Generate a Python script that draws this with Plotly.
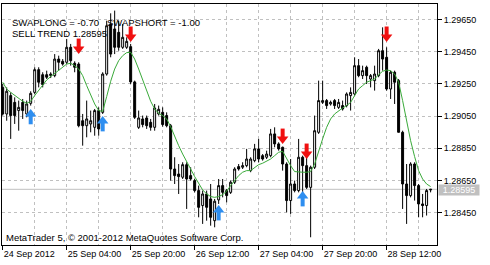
import plotly.graph_objects as go
import pandas as pd

# ---------------- data (EURUSD-like H1 bars) ----------------
start_time = "2012-09-24 12:00"

opens = [1.29228, 1.29063, 1.29177, 1.29135, 1.29084, 1.29135, 1.29063, 1.29129, 1.29197, 1.29338,
         1.29307, 1.29307, 1.29301, 1.29301, 1.29404, 1.29390, 1.29384, 1.29477, 1.29378, 1.29373,
         1.29021, 1.28990, 1.29001, 1.28980, 1.29084, 1.29073, 1.29311, 1.29622, 1.29591, 1.29570,
         1.29477, 1.29477, 1.29481, 1.29262, 1.28980, 1.29032, 1.29038, 1.29011, 1.28980, 1.29063,
         1.29073, 1.29053, 1.28990, 1.28721, 1.28690, 1.28670, 1.28748, 1.28680, 1.28649, 1.28587,
         1.28494, 1.28566, 1.28535, 1.28400, 1.28529, 1.28618, 1.28587, 1.28576, 1.28639, 1.28736,
         1.28732, 1.28742, 1.28711, 1.28773, 1.28846, 1.28804, 1.28794, 1.28804, 1.28939, 1.28877,
         1.28856, 1.28752, 1.28525, 1.28628, 1.28587, 1.28794, 1.28742, 1.28607, 1.28732, 1.28949,
         1.29135, 1.29146, 1.29125, 1.29146, 1.29104, 1.29115, 1.29115, 1.29177, 1.29187, 1.29363,
         1.29301, 1.29353, 1.29280, 1.29270, 1.29301, 1.29456, 1.29415, 1.29218, 1.29322, 1.29270,
         1.28949, 1.28628, 1.28556, 1.28752, 1.28618, 1.28504, 1.28494, 1.28591]
highs = [1.29249, 1.29228, 1.29197, 1.29166, 1.29146, 1.29156, 1.29146, 1.29204, 1.29353, 1.29353,
         1.29322, 1.29332, 1.29322, 1.29435, 1.29425, 1.29404, 1.29529, 1.29498, 1.29390, 1.29384,
         1.29063, 1.29146, 1.29084, 1.29094, 1.29104, 1.29322, 1.29642, 1.29688, 1.29705, 1.29642,
         1.29622, 1.29539, 1.29498, 1.29270, 1.29084, 1.29053, 1.29053, 1.29032, 1.29125, 1.29115,
         1.29104, 1.29073, 1.29001, 1.28794, 1.28752, 1.28763, 1.28763, 1.28732, 1.28659, 1.28618,
         1.28587, 1.28587, 1.28628, 1.28535, 1.28659, 1.28659, 1.28597, 1.28649, 1.28732, 1.28752,
         1.28763, 1.28846, 1.28794, 1.28877, 1.28908, 1.28814, 1.28835, 1.28970, 1.28980, 1.28887,
         1.28860, 1.28763, 1.28783, 1.28649, 1.28908, 1.28804, 1.28804, 1.28742, 1.29053, 1.29270,
         1.29270, 1.29156, 1.29146, 1.29156, 1.29156, 1.29146, 1.29197, 1.29228, 1.29415, 1.29404,
         1.29363, 1.29363, 1.29311, 1.29363, 1.29467, 1.29601, 1.29477, 1.29332, 1.29332, 1.29280,
         1.28959, 1.28752, 1.28763, 1.28763, 1.28628, 1.28566, 1.28597, 1.28597]
lows = [1.29053, 1.29021, 1.28908, 1.29001, 1.28959, 1.29032, 1.29042, 1.29115, 1.29187, 1.29228,
        1.29228, 1.29280, 1.29286, 1.29291, 1.29332, 1.29363, 1.29373, 1.29363, 1.29322, 1.28980,
        1.28866, 1.28918, 1.28949, 1.28928, 1.28928, 1.29063, 1.29301, 1.29415, 1.29435, 1.29456,
        1.29467, 1.29467, 1.29249, 1.29032, 1.28970, 1.28980, 1.28970, 1.28959, 1.28959, 1.29053,
        1.28984, 1.28980, 1.28649, 1.28628, 1.28566, 1.28659, 1.28473, 1.28649, 1.28576, 1.28421,
        1.28380, 1.28400, 1.28369, 1.28359, 1.28504, 1.28545, 1.28514, 1.28566, 1.28628, 1.28711,
        1.28721, 1.28732, 1.28701, 1.28763, 1.28763, 1.28773, 1.28783, 1.28794, 1.28856, 1.28835,
        1.28711, 1.28452, 1.28442, 1.28576, 1.28576, 1.28525, 1.28597, 1.28297, 1.28721, 1.28939,
        1.29125, 1.29094, 1.29115, 1.29094, 1.29094, 1.29084, 1.29104, 1.29084, 1.29177, 1.29291,
        1.29280, 1.29249, 1.29228, 1.29208, 1.29291, 1.29332, 1.29208, 1.29156, 1.29125, 1.28949,
        1.28473, 1.28380, 1.28545, 1.28525, 1.28421, 1.28421, 1.28432, 1.28576]
closes = [1.29063, 1.29204, 1.29053, 1.29053, 1.29104, 1.29084, 1.29125, 1.29191, 1.29338, 1.29260,
          1.29245, 1.29291, 1.29311, 1.29404, 1.29384, 1.29373, 1.29477, 1.29394, 1.29353, 1.28990,
          1.28990, 1.29032, 1.29021, 1.29084, 1.28970, 1.29311, 1.29611, 1.29435, 1.29477, 1.29477,
          1.29539, 1.29514, 1.29262, 1.29042, 1.29038, 1.28997, 1.28990, 1.28980, 1.29100, 1.29092,
          1.28997, 1.28990, 1.28721, 1.28680, 1.28674, 1.28748, 1.28659, 1.28659, 1.28587, 1.28483,
          1.28566, 1.28483, 1.28421, 1.28521, 1.28618, 1.28576, 1.28556, 1.28639, 1.28721, 1.28721,
          1.28742, 1.28783, 1.28783, 1.28846, 1.28783, 1.28783, 1.28814, 1.28939, 1.28877, 1.28846,
          1.28752, 1.28525, 1.28628, 1.28587, 1.28794, 1.28742, 1.28607, 1.28732, 1.28959, 1.29146,
          1.29146, 1.29115, 1.29135, 1.29115, 1.29135, 1.29094, 1.29187, 1.29197, 1.29363, 1.29301,
          1.29332, 1.29301, 1.29301, 1.29311, 1.29456, 1.29404, 1.29218, 1.29322, 1.29260, 1.28949,
          1.28628, 1.28556, 1.28752, 1.28618, 1.28504, 1.28494, 1.28587, 1.28595]
ma_values = [1.29260, 1.29218, 1.29197, 1.29177, 1.29156, 1.29142, 1.29129, 1.29142, 1.29177, 1.29212,
             1.29245, 1.29274, 1.29295, 1.29315, 1.29336, 1.29357, 1.29373, 1.29378, 1.29363, 1.29342,
             1.29301, 1.29239, 1.29177, 1.29125, 1.29084, 1.29079, 1.29171, 1.29266, 1.29342, 1.29394,
             1.29425, 1.29444, 1.29446, 1.29404, 1.29342, 1.29274, 1.29204, 1.29142, 1.29094, 1.29067,
             1.29053, 1.29032, 1.28984, 1.28922, 1.28866, 1.28814, 1.28763, 1.28721, 1.28674, 1.28628,
             1.28591, 1.28566, 1.28550, 1.28545, 1.28550, 1.28562, 1.28583, 1.28618, 1.28649, 1.28680,
             1.28701, 1.28711, 1.28711, 1.28732, 1.28748, 1.28757, 1.28769, 1.28783, 1.28804, 1.28825,
             1.28831, 1.28783, 1.28742, 1.28705, 1.28701, 1.28701, 1.28701, 1.28705, 1.28752, 1.28835,
             1.28908, 1.28980, 1.29032, 1.29063, 1.29084, 1.29100, 1.29115, 1.29135, 1.29177, 1.29218,
             1.29239, 1.29260, 1.29270, 1.29280, 1.29307, 1.29328, 1.29336, 1.29332, 1.29311, 1.29260,
             1.29146, 1.29021, 1.28897, 1.28798, 1.28711, 1.28659, 1.28628, 1.28612]

sell_bars = [19, 32, 70, 76, 96]
sell_prices = [1.29479, 1.29554, 1.28920, 1.28827, 1.29554]
buy_bars = [7, 25, 54, 75]
buy_prices = [1.29051, 1.29007, 1.28454, 1.28541]

x_tick_times = ["2012-09-24 12:00", "2012-09-25 04:00", "2012-09-25 20:00", "2012-09-26 12:00",
                "2012-09-27 04:00", "2012-09-27 20:00", "2012-09-28 12:00"]
x_tick_text = ["24 Sep 2012", "25 Sep 04:00", "25 Sep 20:00", "26 Sep 12:00",
               "27 Sep 04:00", "27 Sep 20:00", "28 Sep 12:00"]
y_tick_vals = [1.2845, 1.2865, 1.2885, 1.2905, 1.2925, 1.2945, 1.2965]
last_price = 1.28595
info_line1 = "SWAPLONG = -0.70   SWAPSHORT = -1.00"
info_line2 = "SELL TREND 1.28595"
copyright_text = "MetaTrader 5, \u00a9 2001-2012 MetaQuotes Software Corp."

# ---------------- figure ----------------
W, H = 490, 265
ML, MR, MT, MB = 2, 53, 4, 20
plot_h = H - MT - MB
y_lo, y_hi = 1.28249, 1.29746
ppp = (y_hi - y_lo) / plot_h  # price per pixel

times = pd.date_range(start_time, periods=len(closes), freq="h")
FONT = "Liberation Sans, Arial, sans-serif"
GRID = "#C0C0C0"

fig = go.Figure()

fig.add_trace(go.Scatter(x=times, y=ma_values, mode="lines",
                         line=dict(color="#3AAA3A", width=1), hoverinfo="skip"))

fig.add_trace(go.Candlestick(
    x=times, open=opens, high=highs, low=lows, close=closes,
    increasing=dict(line=dict(color="black", width=1), fillcolor="white"),
    decreasing=dict(line=dict(color="black", width=1), fillcolor="black"),
    whiskerwidth=0, hoverinfo="skip"))

def arrow(bars, prices, color, down):
    xs = [times[b] for b in bars]
    sgn = 1 if down else -1
    stem_y = [p + sgn * 3.5 * ppp for p in prices]
    head_y = [p - sgn * 2.0 * ppp for p in prices]
    fig.add_trace(go.Scatter(x=xs, y=stem_y, mode="markers", hoverinfo="skip",
                             marker=dict(symbol="line-ns", size=7,
                                         line=dict(color=color, width=4))))
    fig.add_trace(go.Scatter(x=xs, y=head_y, mode="markers", hoverinfo="skip",
                             marker=dict(symbol="triangle-down" if down else "triangle-up",
                                         size=10, color=color, line=dict(width=0))))

arrow(sell_bars, sell_prices, "#F01010", True)
arrow(buy_bars, buy_prices, "#2E8EF0", False)

x0 = times[0] - pd.Timedelta(minutes=10.5)
x1 = times[0] + pd.Timedelta(hours=108.6)

fig.add_shape(type="line", xref="paper", x0=0, x1=1, yref="y", y0=last_price, y1=last_price,
              line=dict(color=GRID, width=1), layer="below")

fig.add_annotation(xref="paper", x=1, xanchor="left", xshift=1, yref="y", y=last_price,
                   yshift=-1, text=str(last_price), showarrow=False, bgcolor="#C0C0C0",
                   width=40, height=10, align="center",
                   font=dict(family=FONT, size=9, color="white"), borderpad=0)

pw = W - ML - MR
def px_x(p):
    return (p - ML) / pw
def px_y(p):
    return 1 - (p - MT) / plot_h

fig.add_annotation(xref="paper", yref="paper", x=px_x(10), y=px_y(22.5), xanchor="left",
                   yanchor="middle", text=info_line1, showarrow=False,
                   font=dict(family=FONT, size=9.5, color="black"))
fig.add_annotation(xref="paper", yref="paper", x=px_x(10), y=px_y(33), xanchor="left",
                   yanchor="middle", text=info_line2, showarrow=False,
                   font=dict(family=FONT, size=9.5, color="black"))
fig.add_annotation(xref="paper", yref="paper", x=px_x(4), y=px_y(237), xanchor="left",
                   yanchor="middle", text=copyright_text, showarrow=False,
                   font=dict(family=FONT, size=9.5, color="black"))

fig.update_layout(
    width=W, height=H, margin=dict(l=ML, r=MR, t=MT, b=MB),
    paper_bgcolor="white", plot_bgcolor="white", showlegend=False,
    font=dict(family=FONT, size=9, color="black"),
    xaxis=dict(type="date", range=[x0, x1], rangeslider=dict(visible=False),
               tickvals=pd.to_datetime(x_tick_times), ticktext=x_tick_text,
               ticks="outside", ticklen=4, tickcolor="black",
               ticklabelposition="outside right",
               showgrid=True, gridcolor=GRID, griddash="3px,3px", gridwidth=1,
               minor=dict(tick0=x_tick_times[0], dtick=8 * 3600 * 1000, showgrid=True,
                          gridcolor=GRID, griddash="3px,3px", ticks=""),
               showline=True, linecolor="black", linewidth=1, mirror=True,
               zeroline=False, tickfont=dict(family=FONT, size=9, color="black")),
    yaxis=dict(side="right", range=[y_lo, y_hi], tickvals=y_tick_vals, tickformat=".5f",
               ticks="outside", ticklen=4, tickcolor="black",
               showgrid=True, gridcolor=GRID, griddash="3px,3px", gridwidth=1,
               showline=True, linecolor="black", linewidth=1, mirror=True,
               zeroline=False, tickfont=dict(family=FONT, size=9, color="black")),
)

fig.write_html("out.html")
